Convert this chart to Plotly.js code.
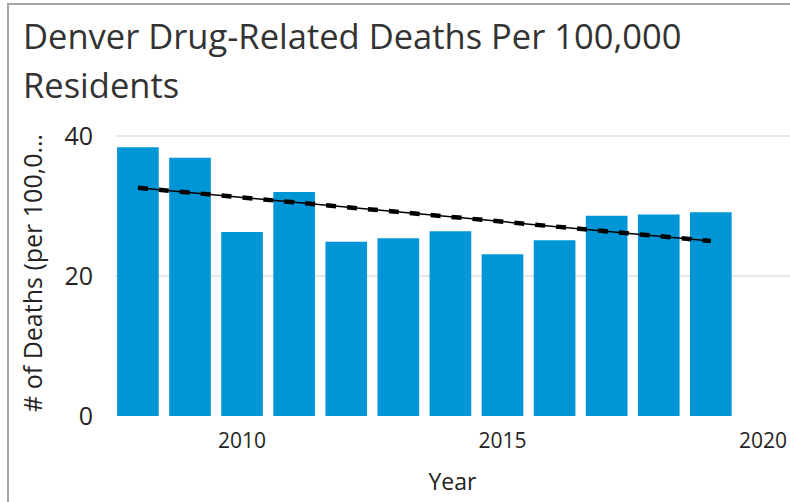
<!DOCTYPE html>
<html>
<head>
<meta charset="utf-8">
<script src="https://cdn.plot.ly/plotly-3.0.1.min.js"></script>
<style>
  html, body { margin: 0; padding: 0; background: #fff; }
  #wrap { position: relative; width: 790px; height: 502px; overflow: hidden; }
  #chart { position: absolute; left: 0; top: 0; width: 790px; height: 502px; }
  #frame { position: absolute; left: 7px; top: 3px; width: 800px; height: 520px;
           border-left: 2px solid #a6a6a6; border-top: 2px solid #a6a6a6; pointer-events: none; }
</style>
</head>
<body>
<div id="wrap">
  <div id="chart"></div>
  <div id="frame"></div>
</div>
<script>
// Data
const years = [2008, 2009, 2010, 2011, 2012, 2013, 2014, 2015, 2016, 2017, 2018, 2019];
const deathsPer100k = [38.4, 36.9, 26.3, 32.0, 24.9, 25.4, 26.4, 23.1, 25.1, 28.6, 28.8, 29.1];
const trendYears = [2008, 2019];
const trendValues = [32.6, 25.0];
const yTickVals = [0, 20, 40];
const xTickVals = [2010, 2015, 2020];
const titleLines = ['Denver Drug-Related Deaths Per 100,000', 'Residents'];

const fontFamily = '"Segoe UI", "Open Sans", "Noto Sans", sans-serif';
const textColor = '#252423';

// plot area geometry (pixels)
const M = { l: 115, r: 0, t: 130, b: 86 };
const plotW = 790 - M.l - M.r;
const plotH = 502 - M.t - M.b;
const px2paperX = px => (px - M.l) / plotW;
const px2paperY = py => 1 + (M.t - py) / plotH;

const traces = [
  {
    type: 'bar',
    x: years,
    y: deathsPer100k,
    width: 0.8,
    marker: { color: '#0096d6' },
    hoverinfo: 'x+y'
  },
  {
    type: 'scatter',
    mode: 'lines',
    x: trendYears,
    y: trendValues,
    line: { color: '#000000', width: 1.5 },
    hoverinfo: 'skip'
  },
  {
    type: 'scatter',
    mode: 'lines',
    x: trendYears,
    y: trendValues,
    line: { color: '#000000', width: 4.5, dash: '10px,11px' },
    hoverinfo: 'skip'
  }
];

const titleCenters = [36, 84];
const annotations = titleLines.map((t, i) => ({
  text: t,
  xref: 'paper', yref: 'paper',
  x: px2paperX(21), xanchor: 'left',
  y: px2paperY(titleCenters[i]), yanchor: 'middle',
  showarrow: false,
  font: { family: fontFamily, size: 34.5, color: '#333333' }
}));

const layout = {
  width: 790,
  height: 502,
  paper_bgcolor: '#ffffff',
  plot_bgcolor: '#ffffff',
  showlegend: false,
  bargap: 0.2,
  margin: { l: M.l, r: M.r, t: M.t, b: M.b, pad: 0 },
  font: { family: fontFamily, color: textColor },
  annotations: annotations,
  xaxis: {
    range: [2007.56, 2020.52],
    tickvals: xTickVals,
    ticktext: xTickVals.map(String),
    showgrid: false,
    zeroline: false,
    showline: false,
    ticks: '',
    ticklabelstandoff: 10,
    tickfont: { size: 21, color: textColor },
    title: { text: 'Year', font: { size: 23, color: textColor }, standoff: 20 }
  },
  yaxis: {
    range: [0, plotH / 7],
    tickvals: yTickVals,
    ticktext: yTickVals.map(String),
    showgrid: true,
    gridcolor: '#e8e8e8',
    gridwidth: 2,
    zeroline: false,
    showline: false,
    ticks: '',
    ticklabelstandoff: 21,
    tickfont: { size: 25, color: textColor },
    title: { text: '# of Deaths (per 100,0…', font: { size: 25, color: textColor }, standoff: 14 }
  }
};

Plotly.newPlot('chart', traces, layout, { displayModeBar: false, staticPlot: true });
</script>
</body>
</html>
